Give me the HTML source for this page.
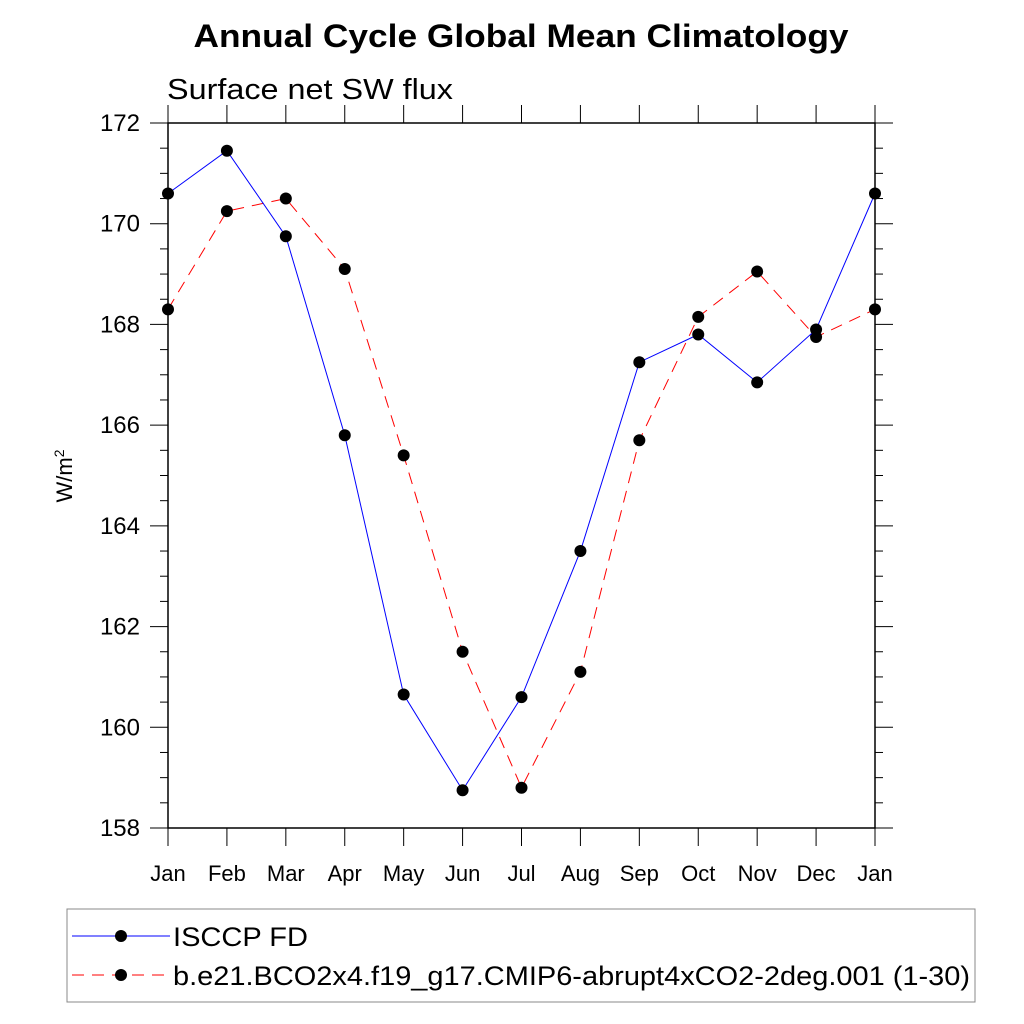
<!DOCTYPE html>
<html><head><meta charset="utf-8"><style>body{margin:0;background:#fff}svg{display:block}</style></head>
<body>
<svg id="c" width="1024" height="1024" xmlns="http://www.w3.org/2000/svg" font-family="Liberation Sans, sans-serif">
<text x="521" y="47" font-size="32" font-weight="bold" text-anchor="middle" textLength="655" lengthAdjust="spacingAndGlyphs">Annual Cycle Global Mean Climatology</text>
<text x="167" y="99" font-size="29" textLength="286" lengthAdjust="spacingAndGlyphs">Surface net SW flux</text>
<text transform="translate(72,476) rotate(-90)" font-size="22" text-anchor="middle">W/m<tspan font-size="14" dy="-8">2</tspan></text>
<g id="axes"></g>
<g id="marks"></g>
<g>
<rect x="67" y="909" width="908" height="93" fill="none" stroke="#888" stroke-width="1"/>
<line x1="72" y1="936" x2="170" y2="936" stroke="#00f" stroke-width="1"/>
<circle cx="121" cy="936" r="6" fill="#000"/>
<text x="173" y="946" font-size="27" textLength="135" lengthAdjust="spacingAndGlyphs">ISCCP FD</text>
<line x1="72" y1="975" x2="170" y2="975" stroke="#f00" stroke-width="1" stroke-dasharray="12,8"/>
<circle cx="121" cy="975" r="6" fill="#000"/>
<text x="173" y="985" font-size="27" textLength="797" lengthAdjust="spacingAndGlyphs">b.e21.BCO2x4.f19_g17.CMIP6-abrupt4xCO2-2deg.001 (1-30)</text>
</g>
</svg>
<script>
const months=["Jan","Feb","Mar","Apr","May","Jun","Jul","Aug","Sep","Oct","Nov","Dec","Jan"];
const isccp=[170.6,171.45,169.75,165.8,160.65,158.75,160.6,163.5,167.25,167.8,166.85,167.9,170.6];
const model=[168.3,170.25,170.5,169.1,165.4,161.5,158.8,161.1,165.7,168.15,169.05,167.75,168.3];
const yTicks=[158,160,162,164,166,168,170,172];
const L=168,R=875,T=123,B=828,ymin=158,ymax=172;
const xs=i=>L+(R-L)*i/12;
const ys=v=>B-(v-ymin)/(ymax-ymin)*(B-T);
const NS="http://www.w3.org/2000/svg";
function mk(t,a,p){const e=document.createElementNS(NS,t);for(const k in a)e.setAttribute(k,a[k]);p.appendChild(e);return e;}
const ax=document.getElementById('axes'),mg=document.getElementById('marks');
const fr=mk('rect',{x:L,y:T,width:R-L,height:B-T,fill:'none',stroke:'#000','stroke-width':1.5},ax);


for(let v=158;v<=172.001;v+=0.5){const maj=Math.abs(v-Math.round(v/2)*2)<1e-6;const len=maj?18:8;
mk('line',{x1:L-len,y1:ys(v),x2:L,y2:ys(v),stroke:'#000'},ax);mk('line',{x1:R,y1:ys(v),x2:R+len,y2:ys(v),stroke:'#000'},ax);}
yTicks.forEach(v=>{const t=mk('text',{x:L-28,y:ys(v)+8,'font-size':24,'text-anchor':'end'},ax);t.textContent=v;

});
months.forEach((m,i)=>{const x=xs(i);mk('line',{x1:x,y1:B,x2:x,y2:B+18,stroke:'#000'},ax);mk('line',{x1:x,y1:T-18,x2:x,y2:T,stroke:'#000'},ax);
const t=mk('text',{x:x,y:B+53,'font-size':22,'text-anchor':'middle'},ax);t.textContent=m;

});
function series(d,col,dash,name){const p=mk('polyline',{points:d.map((v,i)=>xs(i)+','+ys(v)).join(' '),fill:'none',stroke:col,'stroke-width':1,'stroke-dasharray':dash},mg);


d.forEach((v,i)=>{const c=mk('circle',{cx:xs(i),cy:ys(v),r:6,fill:'#000'},mg);

});}
series(model,'#f00','12,8','model');
series(isccp,'#00f','none','isccp');
</script>
</body></html>
